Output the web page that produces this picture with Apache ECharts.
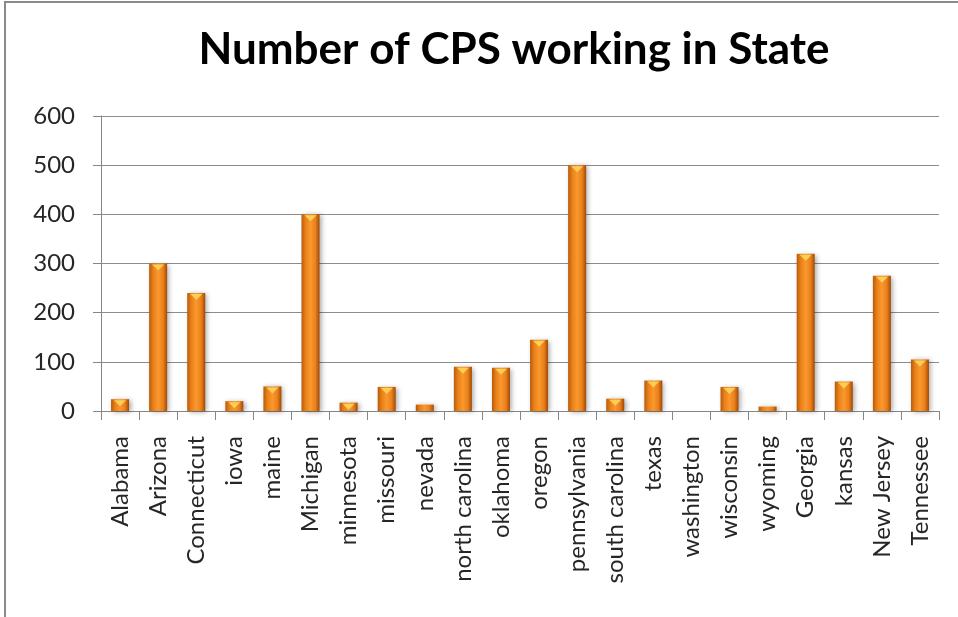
<!DOCTYPE html>
<html>
<head>
<meta charset="utf-8">
<script src="https://cdn.jsdelivr.net/npm/echarts@6/dist/echarts.min.js"></script>
<style>html,body{margin:0;padding:0;background:#fff}#c{width:958px;height:617px}</style>
</head>
<body>
<div id="c"></div>
<script>
const titleText = 'Number of CPS working in State';
const states = ['Alabama','Arizona','Connecticut','iowa','maine','Michigan','minnesota','missouri','nevada','north carolina','oklahoma','oregon','pennsylvania','south carolina','texas','washington','wisconsin','wyoming','Georgia','kansas','New Jersey','Tennessee'];
const cpsCount = [24,300,240,20,50,400,17,49,13,90,88,145,500,25,62,0,49,9,320,60,275,105];
const yTicks = [0,100,200,300,400,500,600];

const chart = echarts.init(document.getElementById('c'), null, {renderer:'canvas'});
const barGrad = new echarts.graphic.LinearGradient(0,0,1,0,[
  {offset:0,color:'#b85a0a'},
  {offset:0.22,color:'#e88018'},
  {offset:0.5,color:'#fa982e'},
  {offset:0.78,color:'#e98019'},
  {offset:1,color:'#a04806'}
]);
const capData = cpsCount.map(v => v >= 15 ? v : null);
chart.setOption({
  animation:false,
  backgroundColor:'#ffffff',
  title:{
    text:titleText,
    left:509, top:23, textAlign:'center',
    textStyle:{fontFamily:'Lato', fontWeight:'bold', fontSize:44, color:'#000'}
  },
  graphic:[{
    type:'rect', shape:{x:5,y:2,width:1100,height:800},
    style:{fill:'none', stroke:'#8a8a8a', lineWidth:2}, z:100
  }],
  grid:{left:101, right:19, top:116, bottom:206, containLabel:false},
  xAxis:{
    type:'category', data:states,
    axisLine:{lineStyle:{color:'#868686', width:1}},
    axisTick:{show:true, length:9, lineStyle:{color:'#868686'}, alignWithLabel:false},
    axisLabel:{rotate:90, margin:25, interval:0, fontFamily:'Lato', fontSize:24, color:'#262626'}
  },
  yAxis:{
    type:'value', min:0, max:600, interval:100,
    axisLine:{show:true, lineStyle:{color:'#868686', width:1}},
    axisTick:{show:true, length:8, lineStyle:{color:'#868686'}},
    splitLine:{lineStyle:{color:'#8c8c8c', width:1}},
    axisLabel:{margin:26, fontFamily:'Lato', fontSize:24, color:'#262626',
      formatter: v => yTicks.includes(v) ? String(v) : ''}
  },
  series:[{
    type:'bar', data:cpsCount, barWidth:18,
    itemStyle:{color:barGrad, shadowBlur:5, shadowOffsetX:2, shadowOffsetY:1, shadowColor:'rgba(0,0,0,0.35)'}
  },{
    type:'scatter', data:capData, symbol:'triangle', symbolRotate:180,
    symbolSize:[12,6], symbolOffset:[0,4], z:5,
    itemStyle:{color:'#fcd25a', opacity:0.95}, silent:true
  }]
});
</script>
</body>
</html>
